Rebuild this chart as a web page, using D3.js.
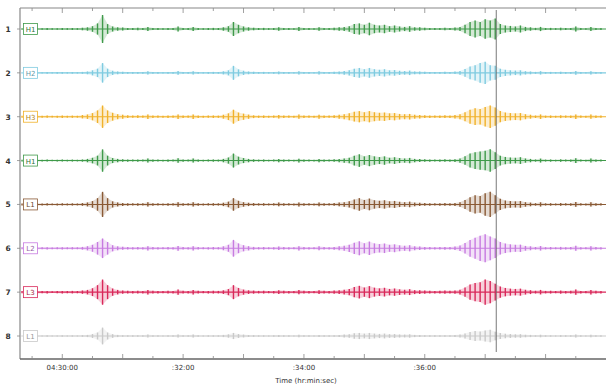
<!DOCTYPE html>
<html>
<head>
<meta charset="utf-8">
<script src="https://cdn.jsdelivr.net/npm/d3@7"></script>
<style>
  html, body { margin: 0; padding: 0; background: #fff; }
  svg { display: block; font-family: "DejaVu Sans", sans-serif; }
</style>
</head>
<body>
<svg id="chart" width="606" height="387"></svg>
<script>
// Eight seismic channels, envelope amplitude sampled every 5 s from 04:29:20
const traceNumbers = ["1", "2", "3", "4", "5", "6", "7", "8"];
const channelNames = ["H1", "H2", "H3", "H1", "L1", "L2", "L3", "L1"];
const channelColors = ["#3f9a4a", "#7fcbe0", "#f0b12a", "#3f9a4a", "#8a5a35", "#c77be0", "#d9285a", "#c9c9c9"];
const sampleStart = "04:29:20";
const sampleStepSec = 5;
const pickTime = "04:37:11";
const tickLabels = ["04:30:00", ":32:00", ":34:00", ":36:00"];
const axisTitle = "Time (hr:min:sec)";

const trace1 = [.6,.7,.5,.8,.6,.7,.5,.6,.8,.6, .7,.6,.9,1.2,2,4,10,3.5,1.8,1.2, 1,.8,.7,.9,.7,1.5,.8,.7,.6,.8,
  .7,1.8,.8,.7,1.5,.8,.6,.7,.8,.7, 1.2,2,5,3,1.8,1.2,.9,.7,.8,.6, .7,1.2,.8,.7,.6,1.4,.8,.7,.6,1.3,
  .8,.7,.9,1.2,1.5,2,3.5,4,3,4.5, 3,2.5,3,2,2.5,1.8,1.5,2,1.2,1.2, .9,.8,.7,.8,.9,.8,1,1.5,3,5,
  6,5,7,6,7.5,3.5,2.5,2.2,1.8,2.5, 1.5,1.2,.8,1.5,.7,.8,.6,.9,.7,.8, 1.8,.7,.6,1.5,.8,.7];
const trace2 = [.5,.6,.5,.6,.5,.6,.5,.6,.6,.5, .6,.5,.7,1,1.8,3,7,3,1.5,1, .8,.7,.6,.7,.6,1.2,.7,.6,.5,.7,
  .6,1.4,.7,.6,1.2,.7,.5,.6,.7,.6, 1.1,1.8,5,2.5,1.5,1,.8,.6,.7,.5, .6,1,.7,.6,.5,1.1,.7,.6,.5,1.1,
  .7,.6,.8,1,1.3,1.8,3,3.5,2.6,3.5, 2.6,2.2,2.6,1.8,2,1.5,1.3,1.6,1,1, .8,.7,.6,.7,.8,.7,.9,1.4,2.8,4.5,
  5.5,7,8,5.5,5,3,2.2,1.8,1.6,1.8, 1.2,1,.7,1.2,.6,.7,.5,.8,.6,.7, 1.3,.6,.5,1.2,.7,.6];
const trace3 = [.7,.8,.6,.9,.7,.8,.6,.7,.9,.7, .8,.7,1.2,1.6,2.6,4.5,8,4.5,2.8,1.8, 1.4,1,.8,1,.8,1.6,.9,.8,.7,.9,
  .8,1.6,.9,.8,1.6,.9,.7,.8,.9,.8, 1.4,2.4,5,3,2.2,1.5,1,.8,.9,.7, .8,1.3,.9,.8,.7,1.5,.9,.8,.7,1.4,
  .9,.8,1,1.4,1.8,2.5,3.5,4,3.2,4, 3.2,2.8,3,2.4,2.6,2,1.8,2,1.4,1.3, 1,.9,.8,.9,1,.9,1.2,1.8,3.2,5,
  6,5.5,7,8,6.5,4,3,2.6,2.4,2.6, 1.8,1.4,.9,1.6,.8,.9,.7,1,.8,.9, 1.6,.8,.7,1.5,.9,.8];
const trace4 = [.6,.7,.5,.7,.6,.7,.5,.6,.7,.6, .7,.6,.8,1.2,2,3.5,8,3.5,1.8,1.2, .9,.8,.7,.8,.7,1.4,.8,.7,.6,.8,
  .7,1.6,.8,.7,1.4,.8,.6,.7,.8,.7, 1.2,2.2,5,2.8,1.8,1.2,.9,.7,.8,.6, .7,1.2,.8,.7,.6,1.3,.8,.7,.6,1.2,
  .8,.7,.9,1.2,1.5,2,3.5,4.5,3,4, 3,2.5,3,2,2.4,1.8,1.5,1.9,1.2,1.1, .9,.8,.7,.8,.9,.8,1,1.5,3,5,
  6,6.5,7,8,6,3.5,2.6,2.2,2,2.4, 1.5,1.2,.8,1.4,.7,.8,.6,.9,.7,.8, 1.7,.7,.6,1.4,.8,.7];
const trace5 = [.7,.8,.6,.8,.7,.8,.6,.7,.8,.7, .8,.7,1,1.4,2.4,4.5,9,4.5,2.2,1.4, 1.1,.9,.8,.9,.8,1.5,.9,.8,.7,.9,
  .8,1.6,.9,.8,1.5,.9,.7,.8,.9,.8, 1.2,2,4.5,2.6,1.6,1.2,1,.8,.9,.7, .8,1.3,.9,.8,.7,1.4,.9,.8,.7,1.3,
  .9,.8,1,1.3,1.6,2.2,3.5,4.5,3.2,4.2, 3,2.6,3,2.2,2.5,1.9,1.6,2,1.3,1.2, 1,.9,.8,.9,1,.9,1.1,1.6,3.2,5.2,
  6.5,6,8,9,6.5,4,2.8,2.4,2.2,2.4, 1.6,1.3,.9,1.5,.8,.9,.7,1,.8,.9, 1.7,.8,.7,1.5,.9,.8];
const trace6 = [.7,.8,.6,.8,.7,.8,.6,.7,.8,.7, .8,.7,1,1.5,2.5,4.5,7,4.5,2.2,1.4, 1.1,.9,.8,.9,.8,1.5,.9,.8,.7,.9,
  .8,1.7,.9,.8,1.5,.9,.7,.8,.9,.8, 1.4,2.5,6,3.5,2.2,1.5,1,.8,.9,.7, .8,1.3,.9,.8,.7,1.5,.9,.8,.7,1.4,
  .9,.8,1,1.4,1.8,2.6,4,5,3.6,4.8, 3.5,3,3.4,2.5,2.8,2.1,1.8,2.2,1.4,1.3, 1,.9,.8,.9,1,.9,1.2,2,3.8,6,
  7.5,9,10,8.5,7,4.5,3.4,2.8,2.5,2.6, 1.7,1.4,.9,1.6,.8,.9,.7,1,.8,.9, 1.8,.8,.7,1.5,.9,.8];
const trace7 = [.8,.9,.7,.9,.8,.9,.7,.8,.9,.8, .9,.8,1.2,1.6,2.8,5,9,5,2.6,1.6, 1.2,1,.9,1,.9,1.6,1,.9,.8,1,
  .9,1.8,1,.9,1.6,1,.8,.9,1,.9, 1.3,2.2,5,3,1.8,1.3,1.1,.9,1,.8, .9,1.4,1,.9,.8,1.5,1,.9,.8,1.4,
  1,.9,1.1,1.4,1.7,2.3,3.6,4.5,3.3,4.3, 3.2,2.7,3.1,2.3,2.6,2,1.7,2.1,1.4,1.3, 1.1,1,.9,1,1.1,1,1.2,1.7,3.3,5.5,
  6.5,7,9,8,6,4,3,2.5,2.3,2.5, 1.7,1.4,1,1.6,.9,1,.8,1.1,.9,1, 1.8,.9,.8,1.6,1,.9];
const trace8 = [.4,.5,.4,.5,.4,.5,.4,.4,.5,.4, .5,.4,.6,.8,1.4,2.5,6,2.5,1.3,.8, .6,.5,.5,.6,.5,1,.5,.5,.4,.5,
  .5,1.1,.5,.5,1,.5,.4,.5,.5,.5, .8,1.2,2.2,1.4,1,.7,.6,.5,.5,.4, .5,.8,.5,.5,.4,.9,.5,.5,.4,.8,
  .5,.5,.6,.8,1,1.3,2,2.2,1.7,2.2, 1.7,1.5,1.7,1.3,1.4,1.1,1,1.2,.8,.8, .6,.5,.5,.5,.6,.5,.7,1,1.8,2.8,
  3.5,3.2,4,4.5,3,2.2,1.6,1.4,1.2,1.3, .9,.8,.5,.9,.5,.5,.4,.6,.5,.5, 1,.5,.4,.9,.5,.5];
const traces = [trace1, trace2, trace3, trace4, trace5, trace6, trace7, trace8];

const parse = d3.timeParse("%H:%M:%S");
const svg = d3.select("#chart");

const plot = { left: 20, right: 606, top: 8, bottom: 359 };

const x = d3.scaleTime()
  .domain([parse("04:29:18"), parse("04:39:00")])
  .range([plot.left, plot.right]);

// one horizontal lane per channel
const lane = d3.scalePoint()
  .domain(traceNumbers)
  .range([29, 336]);

// amplitude (relative units) to pixel offset within a lane
const amp = d3.scaleLinear().domain([-10, 10]).range([14, -14]);

const t0 = parse(sampleStart);
const timeAt = i => new Date(t0.getTime() + i * sampleStepSec * 1000);

// traces
traces.forEach((vals, k) => {
  const cy = lane(traceNumbers[k]);
  const color = channelColors[k];
  const g = svg.append("g").attr("transform", `translate(0,${cy})`);

  const area = d3.area()
    .x((d, i) => x(timeAt(i)))
    .y0(d => amp(-d))
    .y1(d => amp(d))
    .curve(d3.curveLinear);
  g.append("path")
    .datum(vals)
    .attr("d", area)
    .attr("fill", color)
    .attr("fill-opacity", 0.22);

  g.append("line")
    .attr("x1", 37).attr("x2", plot.right)
    .attr("y1", 0).attr("y2", 0)
    .attr("stroke", color)
    .attr("stroke-width", 1.1);

  g.selectAll("line.wig")
    .data(vals)
    .join("line")
    .attr("class", "wig")
    .attr("x1", (d, i) => x(timeAt(i)))
    .attr("x2", (d, i) => x(timeAt(i)))
    .attr("y1", d => amp(-d))
    .attr("y2", d => amp(d))
    .attr("stroke", color)
    .attr("stroke-width", 1.4);

  // channel label box
  g.append("rect")
    .attr("x", 23.5).attr("y", -5.5)
    .attr("width", 14).attr("height", 11)
    .attr("fill", "#fff")
    .attr("stroke", color)
    .attr("stroke-width", 0.8);
  g.append("text")
    .attr("x", 30.5).attr("y", 3)
    .attr("text-anchor", "middle")
    .attr("font-size", 7)
    .attr("fill", d3.color(color).darker(0.8))
    .text(channelNames[k]);

  // trace number
  svg.append("text")
    .attr("x", 8).attr("y", cy + 3)
    .attr("text-anchor", "middle")
    .attr("font-size", 7.5)
    .attr("font-weight", "bold")
    .attr("fill", "#333")
    .text(traceNumbers[k]);
});

// phase pick marker
svg.append("line")
  .attr("x1", x(parse(pickTime))).attr("x2", x(parse(pickTime)))
  .attr("y1", 10).attr("y2", 352)
  .attr("stroke", "#6a6a6a")
  .attr("stroke-width", 0.9);

// frame: top, left, bottom axis lines
const tickTimes = d3.timeSecond.every(30).range(parse("04:29:30"), parse("04:39:00"));
const frame = svg.append("g").attr("stroke", "#888").attr("fill", "none");
frame.append("line").attr("x1", plot.left).attr("x2", plot.right).attr("y1", plot.top).attr("y2", plot.top).attr("stroke-width", 1.2);
frame.append("line").attr("x1", plot.left).attr("x2", plot.left).attr("y1", plot.top).attr("y2", plot.bottom).attr("stroke-width", 1.2);
frame.append("line").attr("x1", plot.left).attr("x2", plot.right).attr("y1", plot.bottom).attr("y2", plot.bottom).attr("stroke", "#666").attr("stroke-width", 1.4);

frame.selectAll("line.tt").data(tickTimes).join("line")
  .attr("class", "tt")
  .attr("x1", d => x(d)).attr("x2", d => x(d))
  .attr("y1", plot.top).attr("y2", d => plot.top + (d.getSeconds() === 0 ? 5 : 3))
  .attr("stroke-width", 0.8);
frame.selectAll("line.bt").data(tickTimes).join("line")
  .attr("class", "bt")
  .attr("x1", d => x(d)).attr("x2", d => x(d))
  .attr("y1", plot.bottom).attr("y2", d => plot.bottom - (d.getSeconds() === 0 ? 5 : 3))
  .attr("stroke-width", 0.8);
frame.selectAll("line.lt").data(traceNumbers).join("line")
  .attr("class", "lt")
  .attr("x1", plot.left - 3).attr("x2", plot.left)
  .attr("y1", d => lane(d)).attr("y2", d => lane(d))
  .attr("stroke-width", 0.8);

// tick labels every two minutes
const labelTimes = ["04:30:00", "04:32:00", "04:34:00", "04:36:00"].map(parse);
svg.selectAll("text.tl").data(labelTimes).join("text")
  .attr("class", "tl")
  .attr("x", d => x(d)).attr("y", 370)
  .attr("text-anchor", "middle")
  .attr("font-size", 7)
  .attr("fill", "#333")
  .text((d, i) => tickLabels[i]);

svg.append("text")
  .attr("x", 306).attr("y", 383)
  .attr("text-anchor", "middle")
  .attr("font-size", 7)
  .attr("fill", "#333")
  .text(axisTitle);
</script>
</body>
</html>
